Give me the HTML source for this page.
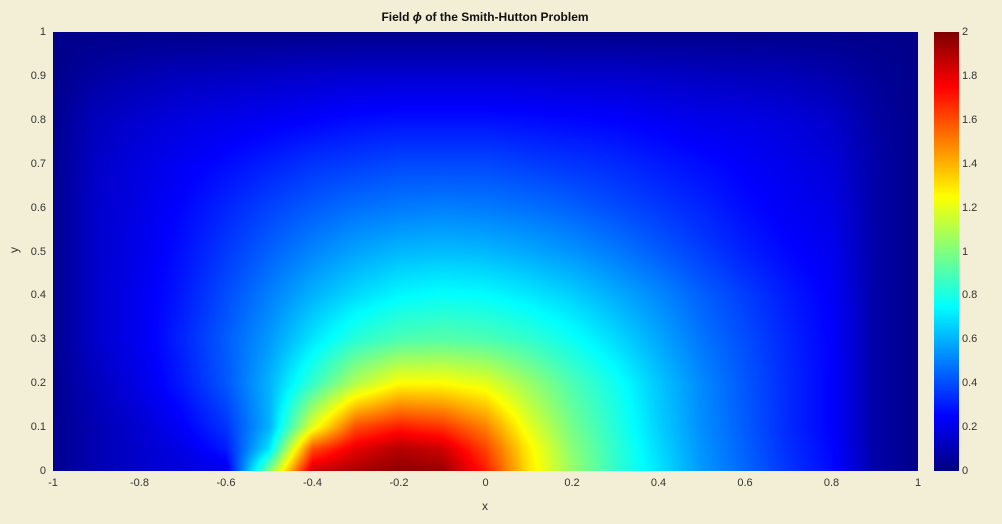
<!DOCTYPE html>
<html><head><meta charset="utf-8"><style>
body{margin:0;background:#f3efd6;}
#wrap{position:relative;width:1002px;height:524px;background:#f3efd6;font-family:"Liberation Sans",sans-serif;color:#333;font-size:11px;overflow:hidden}
canvas{position:absolute}
.t{position:absolute;white-space:nowrap}
</style></head><body>
<div id="wrap">
<div class="t" style="left:485px;top:10px;transform:translateX(-50%);font-weight:bold;font-size:12px;color:#111">Field <i>ϕ</i> of the Smith-Hutton Problem</div>
<canvas id="plot" width="865" height="439" style="left:53px;top:32px"></canvas>
<canvas id="cbar" width="25" height="439" style="left:934px;top:32px"></canvas>
<div class="t" style="left:485px;top:499px;transform:translateX(-50%);font-size:12px">x</div>
<div class="t" style="left:11px;top:243px;transform:rotate(-90deg);font-size:12px">y</div>
</div>
<script>
const xVals=[-1,-0.9,-0.8,-0.7,-0.6,-0.5,-0.4,-0.3,-0.2,-0.1,0,0.1,0.2,0.3,0.4,0.5,0.6,0.7,0.8,0.9,1];
const yVals=[0,0.05,0.1,0.2,0.3,0.4,0.5,0.6,0.7,0.8,0.9,1];
const phiRows=[
[0.03,0.1,0.15,0.18,0.2,1.0,1.85,1.92,1.97,1.95,1.7,1.3,1.05,0.85,0.7,0.55,0.45,0.35,0.27,0.08,0.02],
[0.03,0.1,0.15,0.2,0.3,0.7,1.6,1.8,1.9,1.85,1.62,1.28,1.02,0.84,0.68,0.54,0.44,0.34,0.26,0.08,0.02],
[0.03,0.1,0.16,0.24,0.35,0.6,1.2,1.6,1.7,1.65,1.5,1.2,0.98,0.82,0.66,0.53,0.43,0.33,0.25,0.08,0.02],
[0.03,0.12,0.2,0.3,0.42,0.6,0.85,1.1,1.25,1.25,1.2,1.05,0.9,0.78,0.64,0.52,0.42,0.33,0.25,0.08,0.02],
[0.03,0.15,0.22,0.32,0.43,0.55,0.7,0.83,0.9,0.92,0.9,0.85,0.77,0.68,0.58,0.48,0.4,0.32,0.25,0.08,0.02],
[0.03,0.15,0.22,0.3,0.4,0.5,0.6,0.68,0.74,0.76,0.75,0.71,0.66,0.59,0.52,0.44,0.37,0.3,0.24,0.08,0.02],
[0.03,0.15,0.21,0.28,0.36,0.44,0.51,0.57,0.61,0.62,0.61,0.58,0.54,0.49,0.43,0.37,0.31,0.26,0.22,0.08,0.02],
[0.03,0.15,0.2,0.26,0.32,0.38,0.43,0.47,0.49,0.5,0.49,0.47,0.44,0.4,0.36,0.32,0.27,0.23,0.2,0.08,0.02],
[0.03,0.14,0.19,0.23,0.27,0.31,0.35,0.37,0.39,0.39,0.39,0.37,0.35,0.33,0.3,0.27,0.24,0.21,0.18,0.08,0.02],
[0.03,0.12,0.16,0.19,0.21,0.23,0.25,0.27,0.28,0.28,0.28,0.27,0.26,0.25,0.23,0.21,0.2,0.18,0.15,0.07,0.02],
[0.02,0.07,0.1,0.12,0.13,0.14,0.15,0.16,0.16,0.16,0.16,0.16,0.15,0.15,0.14,0.13,0.12,0.11,0.09,0.05,0.02],
[0.02,0.02,0.02,0.02,0.02,0.02,0.02,0.02,0.02,0.02,0.02,0.02,0.02,0.02,0.02,0.02,0.02,0.02,0.02,0.02,0.02]
];
const xTicks=[-1,-0.8,-0.6,-0.4,-0.2,0,0.2,0.4,0.6,0.8,1];
const yTicks=[0,0.1,0.2,0.3,0.4,0.5,0.6,0.7,0.8,0.9,1];
const cTicks=[0,0.2,0.4,0.6,0.8,1,1.2,1.4,1.6,1.8,2];
const cMin=0,cMax=2;
const L=53,T=32,W=865,H=439,CBW=25;
const sx=x=>L+(x+1)/2*W, sy=y=>T+(1-y)*H;
function jet(t){t=Math.max(0,Math.min(1,t));const c=v=>Math.round(255*Math.max(0,Math.min(1,v)));
return [c(1.5-Math.abs(4*t-3)),c(1.5-Math.abs(4*t-2)),c(1.5-Math.abs(4*t-1))];}
function idx(arr,v){let i=0;while(i<arr.length-2&&v>arr[i+1])i++;return [i,(v-arr[i])/(arr[i+1]-arr[i])];}
function sample(x,y){
 const [i,a]=idx(xVals,x),[j,b]=idx(yVals,y);
 return (phiRows[j][i]*(1-a)+phiRows[j][i+1]*a)*(1-b)+(phiRows[j+1][i]*(1-a)+phiRows[j+1][i+1]*a)*b;}
const ctx=document.getElementById('plot').getContext('2d');
const img=ctx.createImageData(W,H);
for(let py=0;py<H;py++){const y=1-(py+0.5)/H;for(let px=0;px<W;px++){const x=-1+2*(px+0.5)/W;
 const c=jet((sample(x,y)-cMin)/(cMax-cMin));const k=(py*W+px)*4;img.data[k]=c[0];img.data[k+1]=c[1];img.data[k+2]=c[2];img.data[k+3]=255;}}
ctx.putImageData(img,0,0);
const cb=document.getElementById('cbar').getContext('2d');
for(let py=0;py<H;py++){const c=jet(1-(py+0.5)/H);cb.fillStyle=`rgb(${c})`;cb.fillRect(0,py,CBW,1);}
const wrap=document.getElementById('wrap');
function lab(txt,x,y,tf,name){const d=document.createElement('div');d.className='t';d.textContent=txt;d.style.left=x+'px';d.style.top=y+'px';d.style.transform=tf;


wrap.appendChild(d);}
xTicks.forEach(v=>lab(String(v),sx(v),477,'translateX(-50%)','x-tick-label'));
yTicks.forEach(v=>lab(String(v),46,sy(v),'translate(-100%,-50%)','y-tick-label'));
cTicks.forEach(v=>lab(String(v),962,T+(1-(v-cMin)/(cMax-cMin))*H,'translateY(-50%)','colorbar-tick-label'));
</script>
</body></html>
